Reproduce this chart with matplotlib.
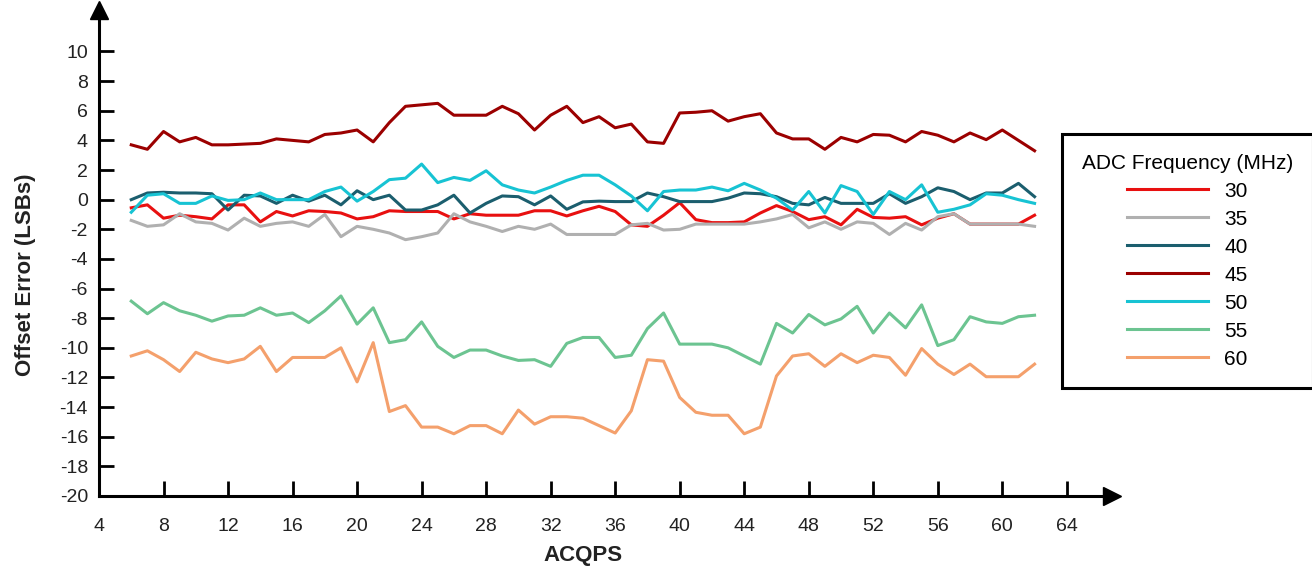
import matplotlib
matplotlib.use("Agg")
import matplotlib.pyplot as plt

plt.rcParams['font.family'] = ['Liberation Sans', 'DejaVu Sans']
plt.rcParams['axes.unicode_minus'] = False

acqps = list(range(6, 63))

err_30 = [-0.55, -0.35, -1.25, -1.05, -1.15, -1.3, -0.35, -0.35, -1.5, -0.8,
          -1.1, -0.75, -0.8, -0.9, -1.3, -1.15, -0.75, -0.8, -0.8, -0.8,
          -1.3, -0.95, -1.05, -1.05, -1.05, -0.75, -0.75, -1.1, -0.75, -0.45,
          -0.8, -1.7, -1.8, -1.05, -0.2, -1.35, -1.55, -1.55, -1.5, -0.9,
          -0.4, -0.8, -1.35, -1.15, -1.7, -0.65, -1.2, -1.25, -1.15, -1.7,
          -1.25, -0.95, -1.65, -1.65, -1.65, -1.65, -1.05]
err_35 = [-1.4, -1.8, -1.7, -0.95, -1.5, -1.6, -2.05, -1.25, -1.8, -1.6,
          -1.5, -1.8, -1.0, -2.5, -1.8, -2.0, -2.25, -2.7, -2.5, -2.25,
          -0.95, -1.5, -1.8, -2.15, -1.8, -2.0, -1.65, -2.35, -2.35, -2.35,
          -2.35, -1.7, -1.6, -2.05, -2.0, -1.65, -1.65, -1.65, -1.65, -1.5,
          -1.3, -1.0, -1.9, -1.5, -2.0, -1.5, -1.6, -2.35, -1.6, -2.05,
          -1.15, -0.95, -1.65, -1.65, -1.65, -1.65, -1.8]
err_40 = [0.0, 0.45, 0.5, 0.45, 0.45, 0.4, -0.7, 0.3, 0.25, -0.25,
          0.3, -0.1, 0.3, -0.35, 0.6, 0.0, 0.3, -0.7, -0.7, -0.35,
          0.3, -0.9, -0.25, 0.25, 0.2, -0.35, 0.25, -0.65, -0.15, -0.1,
          -0.13, -0.13, 0.45, 0.2, -0.13, -0.13, -0.13, 0.1, 0.45, 0.4,
          0.2, -0.25, -0.35, 0.15, -0.25, -0.25, -0.25, 0.4, -0.25, 0.2,
          0.8, 0.55, 0.0, 0.45, 0.45, 1.1, 0.2]
err_45 = [3.7, 3.4, 4.6, 3.9, 4.2, 3.7, 3.7, 3.75, 3.8, 4.1,
          4.0, 3.9, 4.4, 4.5, 4.7, 3.9, 5.2, 6.3, 6.4, 6.5,
          5.7, 5.7, 5.7, 6.3, 5.8, 4.7, 5.7, 6.3, 5.2, 5.6,
          4.85, 5.1, 3.9, 3.8, 5.85, 5.9, 6.0, 5.3, 5.6, 5.8,
          4.5, 4.1, 4.1, 3.4, 4.2, 3.9, 4.4, 4.35, 3.9, 4.6,
          4.35, 3.9, 4.5, 4.05, 4.7, 4.0, 3.3]
err_50 = [-0.85, 0.3, 0.4, -0.25, -0.25, 0.25, -0.05, 0.0, 0.45, 0.0,
          0.0, 0.0, 0.55, 0.85, -0.1, 0.55, 1.35, 1.45, 2.4, 1.15,
          1.5, 1.3, 1.95, 1.0, 0.65, 0.45, 0.85, 1.3, 1.65, 1.65,
          1.0, 0.25, -0.75, 0.55, 0.65, 0.65, 0.85, 0.6, 1.1, 0.65,
          0.1, -0.7, 0.55, -0.9, 0.95, 0.55, -1.0, 0.55, 0.0, 1.0,
          -0.85, -0.65, -0.35, 0.4, 0.3, 0.0, -0.25]
err_55 = [-6.85, -7.7, -6.95, -7.5, -7.8, -8.2, -7.85, -7.8, -7.3, -7.8,
          -7.65, -8.3, -7.5, -6.5, -8.4, -7.3, -9.65, -9.45, -8.25, -9.9,
          -10.65, -10.15, -10.15, -10.55, -10.85, -10.8, -11.25, -9.7, -9.3, -9.3,
          -10.65, -10.5, -8.7, -7.65, -9.75, -9.75, -9.75, -10.0, -10.55, -11.1,
          -8.35, -9.0, -7.75, -8.45, -8.05, -7.2, -9.0, -7.65, -8.65, -7.1,
          -9.85, -9.45, -7.9, -8.25, -8.35, -7.9, -7.8]
err_60 = [-10.55, -10.2, -10.8, -11.6, -10.3, -10.75, -11.0, -10.75, -9.9, -11.6,
          -10.65, -10.65, -10.65, -10.0, -12.3, -9.65, -14.3, -13.9, -15.35, -15.35,
          -15.8, -15.25, -15.25, -15.8, -14.2, -15.15, -14.65, -14.65, -14.75, -15.25,
          -15.75, -14.25, -10.8, -10.9, -13.35, -14.35, -14.55, -14.55, -15.8, -15.35,
          -11.9, -10.55, -10.4, -11.25, -10.4, -11.0, -10.5, -10.65, -11.85, -10.05,
          -11.1, -11.8, -11.1, -11.95, -11.95, -11.95, -11.1]

freqs = ['30', '35', '40', '45', '50', '55', '60']
series = [err_30, err_35, err_40, err_45, err_50, err_55, err_60]
colors = ['#e81010', '#b0b0b0', '#1b5e6e', '#9b0000', '#17c3d3', '#6cc491', '#f4a06c']

xticks = list(range(4, 65, 4))
yticks = list(range(-20, 11, 2))

fig = plt.figure(figsize=(13.12, 5.70), dpi=100)
ax = fig.add_axes([99 / 1312, 74 / 570, 1013 / 1312, 486 / 570])

for vals, c, lab in zip(series, colors, freqs):
    ax.plot(acqps, vals, color=c, lw=2.2, label=lab)

ax.set_xlim(4, 66.8)
ax.set_ylim(-20, 12.8)
ax.set_xticks(xticks)
ax.set_yticks(yticks)
ax.spines['top'].set_visible(False)
ax.spines['right'].set_visible(False)
for s in ('left', 'bottom'):
    ax.spines[s].set_linewidth(2.2)
ax.tick_params(direction='in', length=11, width=2.0, labelsize=14,
               labelcolor='#222222')
ax.tick_params(axis='x', pad=16)
ax.tick_params(axis='y', pad=8)

# arrow heads on the axes
ax.plot(1, 0, '>k', ms=13, transform=ax.transAxes, clip_on=False)
ax.plot(0, 1, '^k', ms=13, transform=ax.transAxes, clip_on=False)

fig.text(583 / 1312, 1 - 556 / 570, 'ACQPS', ha='center', va='center',
         fontsize=16, fontweight='bold', color='#222222')
fig.text(26 / 1312, 1 - 275 / 570, 'Offset Error (LSBs)', ha='center', va='center',
         rotation=90, fontsize=16, fontweight='bold', color='#222222')

leg = ax.legend(title='ADC Frequency (MHz)', loc='upper left',
                bbox_to_anchor=(1062 / 1312, 1 - 134 / 570),
                bbox_transform=fig.transFigure, borderaxespad=0,
                fontsize=15, title_fontsize=15,
                handlelength=3.85, labelspacing=0.43, borderpad=0.95,
                alignment='center', fancybox=False, framealpha=1)
leg.get_frame().set_edgecolor('black')
leg.get_frame().set_linewidth(2.2)

fig.savefig('out.png', dpi=100)
